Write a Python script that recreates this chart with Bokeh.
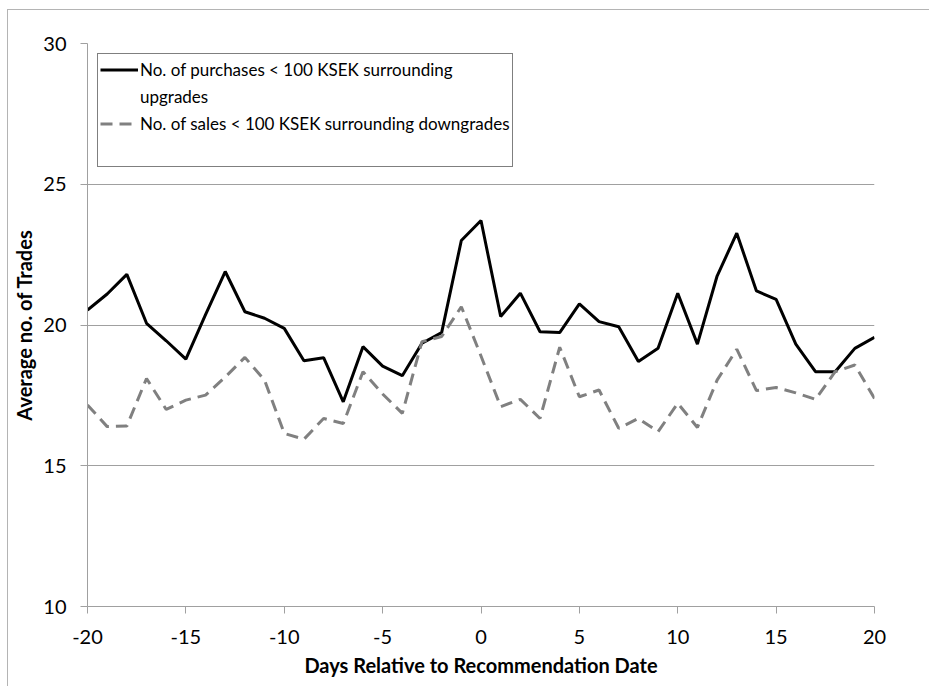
from bokeh.plotting import figure
from bokeh.models import Range1d, FixedTicker, Legend, LegendItem
from bokeh.embed import file_html
from bokeh.resources import INLINE

days = list(range(-20, 21))
purchases_up = [20.53, 21.10, 21.80, 20.06, 19.44, 18.79, 20.37, 21.90, 20.47, 20.24,
                19.88, 18.73, 18.84, 17.27, 19.23, 18.54, 18.20, 19.35, 19.73, 23.00,
                23.71,
                20.30, 21.13, 19.76, 19.73, 20.75, 20.12, 19.94, 18.70, 19.17, 21.13,
                19.32, 21.74, 23.26, 21.21, 20.91, 19.32, 18.34, 18.34, 19.17, 19.56]
sales_down = [17.16, 16.39, 16.41, 18.10, 17.00, 17.33, 17.51, 18.15, 18.85, 18.04,
              16.15, 15.94, 16.68, 16.50, 18.34, 17.55, 16.86, 19.41, 19.59, 20.65,
              18.90,
              17.10, 17.36, 16.68, 19.21, 17.45, 17.69, 16.33, 16.68, 16.21, 17.22,
              16.36, 18.04, 19.14, 17.67, 17.78, 17.59, 17.36, 18.34, 18.58, 17.39]
x_ticks = [-20, -15, -10, -5, 0, 5, 10, 15, 20]
y_ticks = [10, 15, 20, 25, 30]
label_up_line1 = "No. of purchases < 100 KSEK surrounding"
label_up_line2 = "upgrades"
label_down = "No. of sales < 100 KSEK surrounding downgrades"
x_title = "Days Relative to Recommendation Date"
y_title = "Average no. of Trades"

FONT = "Lato"
GRID = "#a0a0a0"

p = figure(width=922, height=677, output_backend="svg", toolbar_location=None,
           x_range=Range1d(-20, 20), y_range=Range1d(10, 30),
           min_border_left=79, min_border_right=56, min_border_top=33, min_border_bottom=81,
           styles={"margin-left": "7px", "margin-top": "9px",
                   "border-left": "1px solid #b4b4b4", "border-top": "1px solid #b4b4b4"})
p.outline_line_color = None
p.background_fill_color = "white"
p.border_fill_color = "white"

r_up = p.line(days, purchases_up, line_color="black", line_width=3)
r_down = p.line(days, sales_down, line_color="#808080", line_width=3, line_dash="12 7")
r_blank1 = p.line(days, purchases_up, line_alpha=0)
r_blank2 = p.line(days, purchases_up, line_alpha=0)

p.xaxis.ticker = FixedTicker(ticks=x_ticks)
p.yaxis.ticker = FixedTicker(ticks=y_ticks)
p.xaxis.major_label_overrides = {t: str(t) for t in x_ticks}
p.yaxis.major_label_overrides = {t: str(t) for t in y_ticks}
p.xgrid.grid_line_color = None
p.ygrid.grid_line_color = GRID
p.ygrid.grid_line_width = 1

for ax in (p.xaxis, p.yaxis):
    ax.axis_line_color = GRID
    ax.major_tick_line_color = GRID
    ax.major_tick_in = 0
    ax.major_tick_out = 7
    ax.minor_tick_line_color = None
    ax.major_label_text_font = FONT
    ax.major_label_text_font_size = "20px"
    ax.major_label_text_color = "black"
    ax.axis_label_text_font = FONT
    ax.axis_label_text_font_size = "20px"
    ax.axis_label_text_font_style = "bold"
    ax.axis_label_text_color = "black"

p.xaxis.axis_label = x_title
p.yaxis.axis_label = y_title
p.xaxis.major_label_standoff = 16
p.yaxis.major_label_standoff = 14
p.xaxis.axis_label_standoff = 6
p.yaxis.axis_label_standoff = 4

legend = Legend(items=[
    LegendItem(label=label_up_line1, renderers=[r_up]),
    LegendItem(label=label_up_line2, renderers=[r_blank1]),
    LegendItem(label=label_down, renderers=[r_down]),
    LegendItem(label=" ", renderers=[r_blank2]),
], location="top_left")
legend.margin = 10
legend.padding = 2
legend.spacing = 0
legend.label_height = 27
legend.glyph_height = 27
legend.glyph_width = 38
legend.label_standoff = 2
legend.label_text_font = FONT
legend.label_text_font_size = "17px"
legend.label_text_color = "black"
legend.border_line_color = "black"
legend.border_line_width = 1
legend.background_fill_color = "white"
legend.background_fill_alpha = 1
p.add_layout(legend, "center")

open("out.html", "w").write(file_html(p, INLINE))
